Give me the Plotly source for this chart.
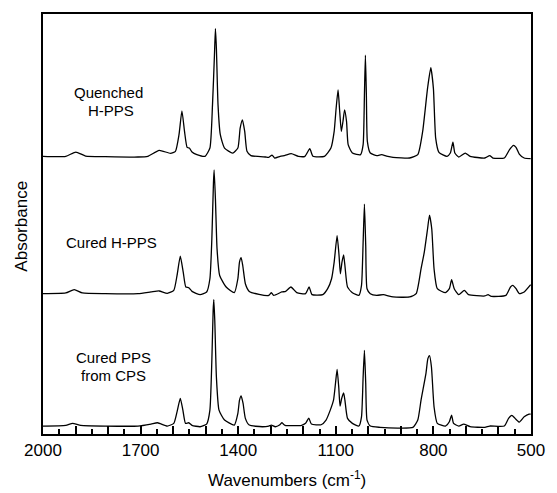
import plotly.graph_objects as go

# ---- data (wavenumber, absorbance above own baseline) ----
quenched_wn = [2000, 1930, 1899, 1869, 1809, 1708, 1678, 1643, 1608, 1593, 1582, 1573, 1565, 1557, 1550,
               1542, 1527, 1502, 1487, 1479, 1473, 1470, 1467, 1462, 1455, 1442, 1417, 1401, 1394, 1387,
               1380, 1373, 1361, 1316, 1306, 1296, 1288, 1271, 1256, 1237, 1215, 1195, 1180, 1170, 1135,
               1115, 1105, 1099, 1093, 1088, 1083, 1078, 1073, 1067, 1062, 1049, 1024, 1016, 1012, 1009,
               1006, 1003, 994, 974, 959, 944, 924, 873, 848, 833, 818, 808, 800, 793, 783, 758, 748, 740,
               734, 722, 702, 687, 642, 627, 617, 582, 566, 554, 546, 536, 521, 501]
quenched_abs = [0, 0, 0.043, 0.003, -0.003, -0.007, 0, 0.06, 0.03, 0.05, 0.217, 0.457, 0.25, 0.09, 0.083,
                0.043, 0.017, 0, 0.083, 0.517, 1.017, 1.283, 1.083, 0.517, 0.217, 0.083, 0.033, 0.083, 0.283, 0.367,
                0.25, 0.05, 0.007, -0.007, -0.01, 0.013, -0.017, 0, 0.01, 0.027, 0, 0, 0.077, 0, 0,
                0.083, 0.25, 0.483, 0.667, 0.45, 0.25, 0.35, 0.467, 0.35, 0.117, 0.033, 0.017, 0.117, 0.617, 1.017,
                0.617, 0.15, 0.033, 0.007, 0.017, 0.003, -0.01, -0.017, 0.017, 0.25, 0.683, 0.89, 0.683, 0.183, 0.04, 0, 0.033, 0.143,
                0.033, -0.007, 0.033, 0, -0.017, 0.007, -0.017, -0.017, 0.067, 0.11, 0.09, 0.023, -0.017, -0.023]

cured_wn = [2000, 1930, 1904, 1879, 1809, 1708, 1668, 1643, 1618, 1598, 1588, 1578, 1569, 1561, 1552,
            1542, 1517, 1497, 1487, 1481, 1476, 1474, 1470, 1465, 1457, 1437, 1412, 1401, 1396, 1391,
            1386, 1378, 1366, 1336, 1306, 1298, 1291, 1266, 1254, 1238, 1220, 1193, 1182, 1173, 1140,
            1125, 1113, 1105, 1096, 1090, 1086, 1081, 1076, 1072, 1064, 1049, 1029, 1021, 1016, 1012,
            1008, 1004, 994, 974, 954, 924, 873, 853, 838, 828, 818, 812, 805, 798, 788, 763, 751, 744,
            736, 722, 705, 692, 642, 632, 622, 577, 563, 556, 546, 536, 521, 501]
cured_abs = [0, 0.007, 0.04, 0.007, 0, 0, 0.017, 0.027, 0.003, 0.033, 0.183, 0.377, 0.217, 0.067, 0.06,
             0.023, -0.01, 0.017, 0.15, 0.55, 1.117, 1.243, 0.95, 0.45, 0.183, 0.067, 0.01, 0.15, 0.317, 0.363,
             0.283, 0.1, 0.023, -0.007, -0.017, 0.01, -0.017, 0.017, 0.023, 0.067, 0.01, 0, 0.067, -0.01, -0.01,
             0.05, 0.15, 0.317, 0.583, 0.383, 0.2, 0.317, 0.39, 0.283, 0.067, 0.01, -0.017, 0.083, 0.517, 0.9,
             0.483, 0.05, 0, -0.017, -0.01, -0.033, -0.033, 0, 0.25, 0.417, 0.65, 0.79, 0.65, 0.25, 0.05, 0.01, 0.05, 0.14,
             0.05, -0.01, 0.033, -0.01, -0.023, -0.01, -0.027, -0.017, 0.067, 0.083, 0.05, 0, 0.017, 0.09]

cps_wn = [2000, 1930, 1909, 1884, 1809, 1708, 1668, 1648, 1618, 1598, 1588, 1578, 1570, 1562, 1552,
          1542, 1517, 1497, 1487, 1481, 1477, 1475, 1472, 1467, 1459, 1442, 1412, 1401, 1396, 1391,
          1385, 1378, 1366, 1326, 1306, 1298, 1286, 1273, 1266, 1256, 1205, 1193, 1183, 1175, 1145,
          1130, 1117, 1107, 1101, 1096, 1091, 1087, 1082, 1076, 1072, 1064, 1049, 1029, 1021, 1016,
          1012, 1008, 1004, 994, 964, 903, 863, 848, 838, 823, 817, 812, 806, 798, 788, 763, 751, 744,
          738, 722, 707, 687, 642, 627, 582, 569, 559, 549, 536, 521, 506, 501]
cps_abs = [0, 0.007, 0.027, 0.007, 0, 0, 0.02, 0.033, 0, 0.027, 0.143, 0.277, 0.16, 0.027, 0.033,
           0.007, -0.007, 0.02, 0.16, 0.66, 1.16, 1.27, 1.06, 0.493, 0.16, 0.06, 0.01, 0.127, 0.26, 0.303,
           0.227, 0.077, 0.01, -0.007, 0, 0.01, -0.007, 0.01, 0.033, 0.007, 0.007, 0.027, 0.08, 0.02, 0.013,
           0.06, 0.16, 0.26, 0.427, 0.57, 0.393, 0.2, 0.277, 0.333, 0.26, 0.077, 0.027, 0, 0.093, 0.493,
           0.76, 0.427, 0.06, 0, -0.013, -0.02, -0.013, 0.06, 0.26, 0.527, 0.677, 0.707, 0.593, 0.193, 0.027, 0, 0.043, 0.11,
           0.027, 0, 0.02, -0.007, -0.013, 0, 0, 0.077, 0.107, 0.077, 0.04, 0.093, 0.12, 0.12]

offsets = [2.79, 1.41, 0.08]
label_tick_vals = [2000, 1700, 1400, 1100, 800, 500]
label_tick_text = ["2000", "1700", "1400", "1100", "800", "500"]
hundred_tick_vals = list(range(500, 2001, 100))

FONT = "Liberation Sans, Arial, Helvetica, sans-serif"

fig = go.Figure()
for wn, ab, off in zip([quenched_wn, cured_wn, cps_wn], [quenched_abs, cured_abs, cps_abs], offsets):
    fig.add_trace(go.Scatter(x=wn, y=[v + off for v in ab], mode="lines",
                             line=dict(color="black", width=1.3, shape="spline", smoothing=0.5),
                             showlegend=False, hoverinfo="skip"))
# empty trace so the overlaid tick axis (every 100 cm-1) is drawn
fig.add_trace(go.Scatter(x=[], y=[], xaxis="x2", yaxis="y", mode="lines",
                         showlegend=False, hoverinfo="skip"))

fig.update_layout(
    width=557, height=493,
    margin=dict(l=43, r=17, t=12, b=59),
    paper_bgcolor="white", plot_bgcolor="white",
    font=dict(family=FONT, color="black", size=17),
    xaxis=dict(
        range=[2000, 500], showgrid=False, zeroline=False,
        showline=True, linecolor="black", linewidth=1.5, mirror=True,
        tickmode="array", tickvals=label_tick_vals, ticktext=label_tick_text,
        ticks="inside", ticklen=8, tickwidth=1.5, tickcolor="black",
        tickfont=dict(size=17),
        minor=dict(tickmode="linear", tick0=500, dtick=50, ticks="inside", ticklen=5,
                   tickwidth=1.5, tickcolor="black"),
    ),
    xaxis2=dict(
        range=[2000, 500], overlaying="x", anchor="y", side="bottom",
        showgrid=False, zeroline=False, showline=False, showticklabels=False,
        tickmode="array", tickvals=hundred_tick_vals,
        ticks="inside", ticklen=8, tickwidth=1.5, tickcolor="black",
    ),
    yaxis=dict(
        range=[0, 4.22], showgrid=False, zeroline=False, showticklabels=False,
        showline=True, linecolor="black", linewidth=1.5, mirror=True, ticks="",
    ),
)

# label positions (paper coords)
ann = [("Quenched", 0.135, 0.812), ("H-PPS", 0.139, 0.771),
       ("Cured H-PPS", 0.141, 0.455),
       ("Cured PPS", 0.145, 0.181), ("from CPS", 0.145, 0.140)]
for txt, x, y in ann:
    fig.add_annotation(text=txt, x=x, y=y, xref="paper", yref="paper", showarrow=False,
                       xanchor="center", yanchor="middle", font=dict(size=15, family=FONT))

fig.add_annotation(text="Wavenumbers (cm<sup>-1</sup>)", x=0.5, y=-0.107, xref="paper", yref="paper",
                   showarrow=False, xanchor="center", yanchor="middle", font=dict(size=17, family=FONT))
fig.add_annotation(text="Absorbance", x=-0.044, y=0.495, xref="paper", yref="paper", textangle=-90,
                   showarrow=False, xanchor="center", yanchor="middle", font=dict(size=17, family=FONT))

fig.write_html("out.html")
